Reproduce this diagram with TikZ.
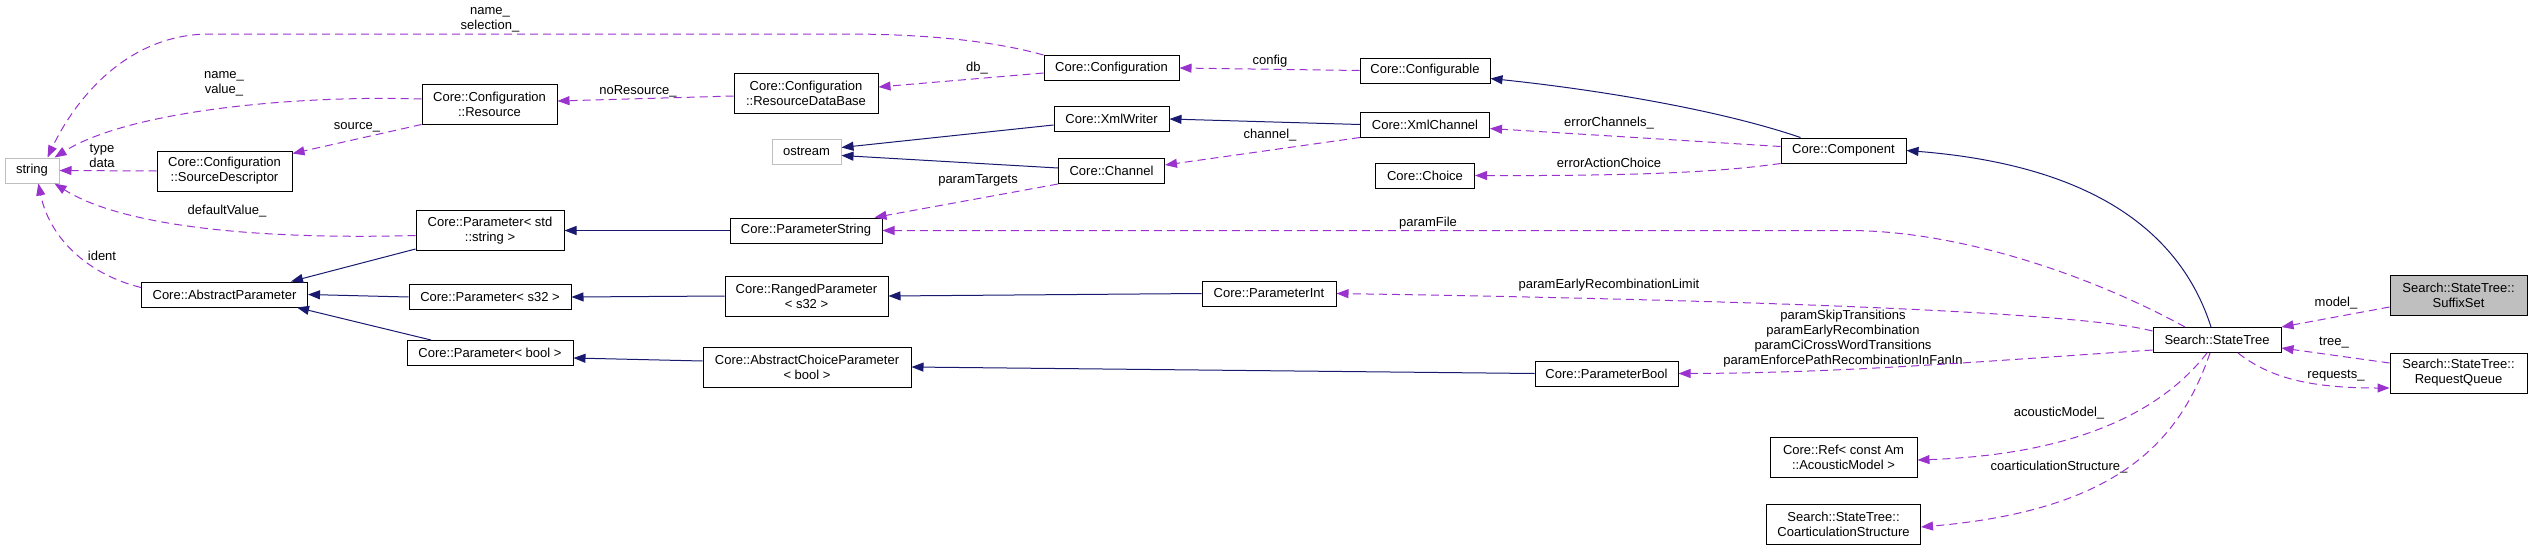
\documentclass[tikz,border=0pt]{standalone}
\usepackage{fontspec}
\setmainfont{Liberation Sans}
\usepackage{tikz}
\usetikzlibrary{shapes,arrows.meta,positioning}
\definecolor{midnight}{RGB}{25,25,112}
\definecolor{orchid}{RGB}{154,50,205}
\definecolor{extgray}{RGB}{191,191,191}
\tikzstyle{cls} = [rectangle, draw=black, fill=white, line width=1pt, text=black, align=center, inner sep=0pt, minimum height=25pt, font=\fontsize{13}{15}\selectfont]
\tikzstyle{extcls} = [cls, draw=extgray]
\tikzstyle{selcls} = [cls, fill=extgray]
\tikzstyle{twoline} = [minimum height=40pt]
\tikzstyle{edgetext} = [draw=none, fill=none, align=center, inner sep=0pt, font=\fontsize{13}{15}\selectfont]
\tikzstyle{inherit} = [draw=midnight, line width=1pt, -{Triangle[length=12pt,width=9pt]}]
\tikzstyle{member} = [draw=orchid, line width=1pt, dash pattern=on 8pt off 5pt, -{Triangle[length=12pt,width=9pt]}]

\begin{document}
\begin{tikzpicture}[x=1pt, y=-1pt]
\useasboundingbox (0,0) rectangle (2532,549);

% classes =============================
\node[extcls, minimum width=54pt] (string) at (32,170.5) {string};
\node[cls, twoline, minimum width=135pt] (srcdesc) at (224.5,171) {Core::Configuration\\::SourceDescriptor};
\node[cls, minimum width=166pt] (abstractparam) at (224.5,294.5) {Core::AbstractParameter};
\node[cls, twoline, minimum width=135pt] (resource) at (489.5,104) {Core::Configuration\\::Resource};
\node[cls, twoline, minimum width=148pt] (paramstdstring) at (490,230.5) {Core::Parameter< std\\::string >};
\node[cls, minimum width=162pt, below=33pt of paramstdstring] (params32) {Core::Parameter< s32 >};
\node[cls, minimum width=166pt, below=30pt of params32] (parambool) {Core::Parameter< bool >};
\node[cls, twoline, minimum width=144pt] (resdb) at (806,93) {Core::Configuration\\::ResourceDataBase};
\node[extcls, minimum width=69pt] (ostream) at (806.5,151.5) {ostream};
\node[cls, minimum width=152pt] (paramstring) at (806,230.5) {Core::ParameterString};
\node[cls, twoline, minimum width=163pt] (ranged) at (806.5,296) {Core::RangedParameter\\< s32 >};
\node[cls, twoline, minimum width=208pt] (abschoice) at (807,367) {Core::AbstractChoiceParameter\\< bool >};
\node[cls, minimum width=135pt] (configuration) at (1111.5,68) {Core::Configuration};
\node[cls, minimum width=115pt, below=25pt of configuration] (xmlwriter) {Core::XmlWriter};
\node[cls, minimum width=106pt, below=26pt of xmlwriter] (channel) {Core::Channel};
\node[cls, minimum width=134pt] (paramint) at (1269,293.5) {Core::ParameterInt};
\node[cls, minimum width=130pt] (configurable) at (1425,70.5) {Core::Configurable};
\node[cls, minimum width=129pt, below=28pt of configurable] (xmlchannel) {Core::XmlChannel};
\node[cls, minimum width=99pt, below=25pt of xmlchannel] (choice) {Core::Choice};
\node[cls, minimum width=143pt] (parameterbool) at (1606.5,373.5) {Core::ParameterBool};
\node[cls, minimum width=125pt] (component) at (1843.5,150.5) {Core::Component};
\node[cls, twoline, minimum width=147pt] (ref) at (1843.5,457) {Core::Ref< const Am\\::AcousticModel >};
\node[cls, twoline, minimum width=154pt, below=26pt of ref] (coartic) {Search::StateTree::\\CoarticulationStructure};
\node[cls, minimum width=128pt] (statetree) at (2217,340) {Search::StateTree};
\node[selcls, twoline, minimum width=137pt] (suffixset) at (2458.5,295) {Search::StateTree::\\SuffixSet};
\node[cls, twoline, minimum width=137pt, below=37pt of suffixset] (requestqueue) {Search::StateTree::\\RequestQueue};

% member names
\node[edgetext] (lselection) at (490,19.5) {name\_\\selection\_};
\node[edgetext] (lvalue) at (224,83.5) {name\_\\value\_};
\node[edgetext] (lsource) at (357,127) {source\_};
\node[edgetext] (ltype) at (102,155.5) {type\\data};
\node[edgetext] (ldefault) at (227,211) {defaultValue\_};
\node[edgetext] (lident) at (102,256) {ident};
\node[edgetext] (lnores) at (638,91) {noResource\_};
\node[edgetext] (ldb) at (977,68) {db\_};
\node[edgetext] (lconfig) at (1270,61) {config};
\node[edgetext] (lchannel) at (1270,135) {channel\_};
\node[edgetext] (ltargets) at (978,180) {paramTargets};
\node[edgetext] (lfile) at (1428,223) {paramFile};
\node[edgetext] (lerrch) at (1609,123) {errorChannels\_};
\node[edgetext] (lerrac) at (1609,163) {errorActionChoice};
\node[edgetext] (llimit) at (1609,285) {paramEarlyRecombinationLimit};
\node[edgetext] (lbools) at (1843,339) {paramSkipTransitions\\paramEarlyRecombination\\paramCiCrossWordTransitions\\paramEnforcePathRecombinationInFanIn};
\node[edgetext] (lmodel) at (2336,303) {model\_};
\node[edgetext] (ltree) at (2334,343) {tree\_};
\node[edgetext] (lrequests) at (2336,376) {requests\_};
\node[edgetext] (lacoustic) at (2059,413) {acousticModel\_};
\node[edgetext] (lcoart) at (2059,467) {coarticulationStructure\_};

% inheritance edges
\path[inherit] ([yshift=2pt]paramstdstring.south west) -- ([xshift=-17pt]abstractparam.north east);
\path[inherit] (params32.west) -- (abstractparam.east);
\path[inherit] ([xshift=-59pt]parambool.north) -- ([xshift=-11pt]abstractparam.south east);
\path[inherit] (paramstring.west) -- (paramstdstring.east);
\path[inherit] (ranged.west) -- (params32.east);
\path[inherit] ([yshift=6pt]abschoice.west) -- ([yshift=-5pt]parambool.east);
\path[inherit] (paramint.west) -- (ranged.east);
\path[inherit] (parameterbool.west) -- (abschoice.east);
\path[inherit] ([yshift=-6pt]xmlwriter.west) -- ([yshift=4pt]ostream.east);
\path[inherit] ([yshift=3pt]channel.west) -- ([yshift=-4pt]ostream.east);
\path[inherit] (xmlchannel.west) -- (xmlwriter.east);
\path[inherit] ([xshift=20pt]component.north west) .. controls (1720,110) and (1600,90) .. ([yshift=-8pt]configurable.east);
\path[inherit] ([xshift=-6pt]statetree.north) .. controls (2180,230) and (2090,165) .. (component.east);

% member edges
\path[member] (configuration.north west) .. controls (990,40) and (920,34) .. (845,34) -- (210,34) .. controls (120,34) and (70,110) .. (string.40);
\path[member] ([yshift=5pt]resource.west) .. controls (300,95) and (130,110) .. (string.30);
\path[member] (srcdesc.west) -- (string.east);
\path[member] ([yshift=-5pt]paramstdstring.west) .. controls (250,240) and (120,225) .. (string.-30);
\path[member] ([yshift=7pt]abstractparam.west) .. controls (90,275) and (50,240) .. (string.-64);
\path[member] (resource.south west) -- ([yshift=-3pt]srcdesc.north east);
\path[member] ([yshift=-3pt]resdb.west) -- ([yshift=3pt]resource.east);
\path[member] ([yshift=-5pt]configuration.west) -- ([yshift=6pt]resdb.east);
\path[member] (configurable.west) -- (configuration.east);
\path[member] (xmlchannel.south west) -- ([yshift=6pt]channel.east);
\path[member] (channel.south west) -- ([xshift=-8pt]paramstring.north east);
\path[member] ([yshift=4pt]component.west) -- ([yshift=-4pt]xmlchannel.east);
\path[member] (component.south west) .. controls (1720,172) and (1640,176) .. (choice.east);
\path[member] ([xshift=-32pt]statetree.north) .. controls (2090,275) and (1960,231) .. (1850,230.5) -- (paramstring.east);
\path[member] ([yshift=9pt]statetree.west) .. controls (2080,312) and (1750,300) .. (paramint.east);
\path[member] ([yshift=-10pt]statetree.west) .. controls (2000,360) and (1850,373) .. (parameterbool.east);
\path[member] ([yshift=-12pt]suffixset.west) -- (statetree.north east);
\path[member] ([yshift=10pt]requestqueue.west) -- ([yshift=-8pt]statetree.east);
\path[member] ([xshift=21pt]statetree.south) .. controls (2270,378) and (2310,388) .. ([yshift=-15pt]requestqueue.west);
\path[member] ([xshift=-10pt]statetree.south) .. controls (2155,420) and (2060,455) .. ([yshift=-3pt]ref.east);
\path[member] ([xshift=-7pt]statetree.south) .. controls (2180,440) and (2120,510) .. ([yshift=-3pt]coartic.east);

\end{tikzpicture}
\end{document}
